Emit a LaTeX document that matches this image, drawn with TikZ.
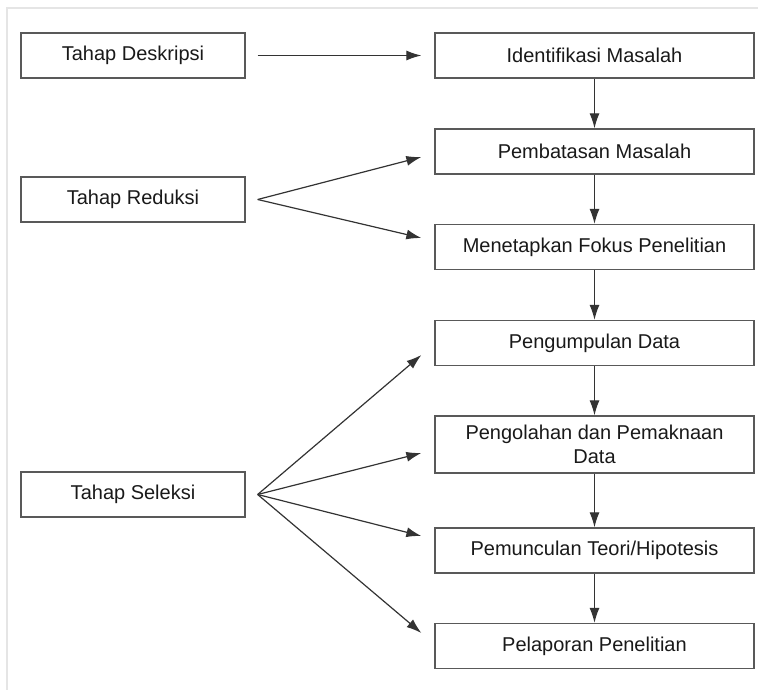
\documentclass[tikz,border=0pt]{standalone}
\usepackage{fontspec}
\setmainfont{Liberation Sans}
\usepackage{tikz}
\usetikzlibrary{arrows.meta}

\tikzset{
  box/.style={draw=black!65, line width=1.3pt, minimum height=45pt, inner sep=2pt,
    text=black!90, font=\fontsize{20}{24}\selectfont, align=center},
  stage/.style={box, minimum width=224pt},
  task/.style={box, minimum width=319pt},
  flow/.style={color=black!80, line width=1.2pt, >={Latex[length=15pt,width=10pt]},
    every edge/.append style={->}}
}

\begin{document}
\begin{tikzpicture}[x=1pt, y=-1pt]
  \useasboundingbox (0,0) rectangle (758,690);
  % faint frame of the original picture
  \draw[black!10, line width=1.5pt] (7,690) -- (7,8) -- (758,8);

  % stages
  \node[stage] (desk) at (133,55.5) {Tahap Deskripsi};
  \node[stage] (red) at (133,199.5) {Tahap Reduksi};
  \node[stage] (sel) at (133,494.5) {Tahap Seleksi};

  % steps
  \node[task] (iden) at (594.5,55.5) {Identifikasi Masalah};
  \node[task] (pemb) at (594.5,151.5) {Pembatasan Masalah};
  \node[task] (mene) at (594.5,247) {Menetapkan Fokus Penelitian};
  \node[task] (pengum) at (594.5,343) {Pengumpulan Data};
  \node[task, minimum height=57pt] (pengol) at (594.5,444.5) {Pengolahan dan Pemaknaan\\Data};
  \node[task] (pemun) at (594.5,550.5) {Pemunculan Teori/Hipotesis};
  \node[task] (pelap) at (594.5,646) {Pelaporan Penelitian};

  \coordinate (desk-o) at ([xshift=12pt]desk.east);
  \coordinate (red-o) at ([xshift=12pt]red.east);
  \coordinate (sel-o) at ([xshift=12pt]sel.east);

  \path[flow]
  (desk-o) edge ([xshift=-13pt]iden.west)
  (red-o) edge ([xshift=-13pt,yshift=-5.5pt]pemb.west)
  (red-o) edge ([xshift=-13pt,yshift=9pt]mene.west)
  (sel-o) edge ([xshift=-13pt,yshift=-12pt]pengum.west)
  (sel-o) edge ([xshift=-13pt,yshift=-8.5pt]pengol.west)
  (sel-o) edge ([xshift=-13pt,yshift=14.5pt]pemun.west)
  (sel-o) edge ([xshift=-13pt,yshift=13pt]pelap.west)
  (iden) edge (pemb)
  (pemb) edge (mene)
  (mene) edge (pengum)
  (pengum) edge (pengol)
  (pengol) edge (pemun)
  (pemun) edge (pelap)
  ;
\end{tikzpicture}
\end{document}
